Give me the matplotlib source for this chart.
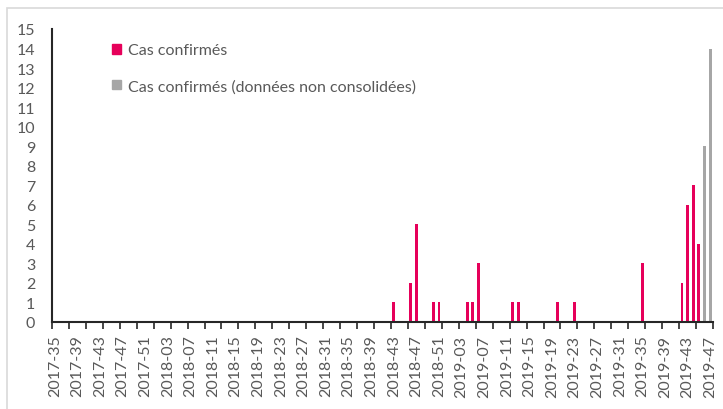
import matplotlib
matplotlib.use("Agg")
from matplotlib import pyplot as plt
from matplotlib.patches import Rectangle, Patch

plt.rcParams['font.family'] = ['Lato', 'DejaVu Sans']

# semaines 2017-35 .. 2019-47
weeks = ([f"2017-{w:02d}" for w in range(35, 53)]
         + [f"2018-{w:02d}" for w in range(1, 53)]
         + [f"2019-{w:02d}" for w in range(1, 48)])

confirmes = {
    "2018-43": 1, "2018-46": 2, "2018-47": 5, "2018-50": 1, "2018-51": 1,
    "2019-04": 1, "2019-05": 1, "2019-06": 3, "2019-12": 1, "2019-13": 1,
    "2019-20": 1, "2019-23": 1, "2019-35": 3, "2019-42": 2, "2019-43": 6,
    "2019-44": 7, "2019-45": 4,
}
non_consolides = {"2019-46": 9, "2019-47": 14}

pink = "#E6005A"
grey = "#A6A6A6"
txt = "#595959"

x = list(range(len(weeks)))
v1 = [confirmes.get(w, 0) for w in weeks]
v2 = [non_consolides.get(w, 0) for w in weeks]

fig = plt.figure(figsize=(7.23, 4.10), dpi=100)
ax = fig.add_axes([52 / 723, 1 - 323 / 410, 661 / 723, 293 / 410])

ax.bar(x, v1, width=0.5, color=pink, label="Cas confirmés")
ax.bar(x, v2, width=0.5, color=grey, label="Cas confirmés (données non consolidées)")

ax.set_xlim(-0.5, len(weeks) - 0.5)
ax.set_ylim(0, 15)
ax.set_yticks(range(0, 16))
ax.tick_params(axis='y', length=0, pad=12, labelsize=11.5, labelcolor=txt)

ax.set_xticks(x[::4])
ax.set_xticklabels(weeks[::4], rotation=90, fontsize=11.5, color=txt)
ax.set_xticks([i - 0.5 for i in range(0, len(weeks) + 1, 3)], minor=True)
ax.tick_params(axis='x', which='major', length=0, pad=9)
ax.tick_params(axis='x', which='minor', length=5, width=1.2, color="#262626")

for s in ["top", "right"]:
    ax.spines[s].set_visible(False)
ax.spines["left"].set_color("#262626")
ax.spines["left"].set_linewidth(1.5)
ax.spines["bottom"].set_color("#262626")
ax.spines["bottom"].set_linewidth(1.5)

ax.legend(handles=[Patch(color=pink), Patch(color=grey)],
          labels=["Cas confirmés", "Cas confirmés (données non consolidées)"],
          loc="upper left", bbox_to_anchor=(106 / 723, 1 - 38 / 410),
          bbox_transform=fig.transFigure, frameon=False, fontsize=11.5,
          labelcolor=txt, handlelength=0.55, handleheight=0.55,
          handletextpad=0.4, labelspacing=1.35, borderaxespad=0)

fig.patches.append(Rectangle((7 / 723, -0.1), 1.2, 1 - 9 / 410 + 0.1,
                             transform=fig.transFigure, fill=False,
                             edgecolor="#D9D9D9", linewidth=1.2))

fig.savefig("out.png", dpi=100)
